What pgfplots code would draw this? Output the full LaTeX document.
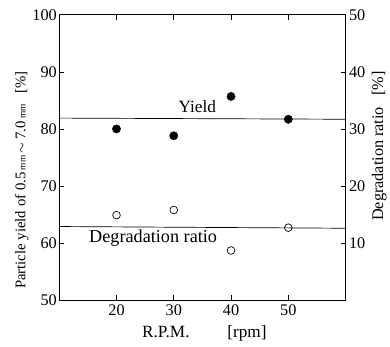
\documentclass[border=0pt]{standalone}
\usepackage{fontspec}
\setmainfont{Liberation Serif}
\usepackage{pgfplots}
\pgfplotsset{compat=1.18}
\begin{document}
\begin{tikzpicture}
\pgfplotsset{
  base/.style={
    at={(0bp,0bp)}, anchor=south west,
    scale only axis, width=290bp, height=289bp,
    xmin=10, xmax=60,
    tick align=inside,
    major tick length=5bp,
    axis line style={line width=0.9bp},
    every tick/.style={line width=0.7bp, black},
    tick label style={font=\fontsize{16.5}{18}\selectfont},
    label style={font=\fontsize{15}{17}\selectfont},
    /pgf/number format/assume math mode=true,
    clip=false,
  }
}
\begin{axis}[base,
  ymin=50, ymax=100,
  xtick={20,30,40,50}, xtick pos=both,
  ytick={50,60,70,80,90,100}, ytick pos=left,
  xticklabel style={yshift=-1bp},
  yticklabel style={xshift=1bp},
  xlabel={R.P.M.\hspace{2.2em}[rpm]},
  xlabel style={font=\fontsize{17.5}{19}\selectfont, at={(axis description cs:0.507,0)}, anchor=center, yshift=-34bp},
  ylabel={Particle yield of 0.5\,{\fontsize{9.5}{11}\selectfont mm}\,$\sim$\,7.0\,{\fontsize{9.5}{11}\selectfont mm}\hspace{0.7em}[\%]},
  ylabel style={at={(axis description cs:-0.131,0.42)}, anchor=center, rotate=0},
]
\addplot[black, line width=0.7bp] coordinates {(10,81.9) (60,81.7)};
\addplot[only marks, mark=*, mark size=4.2bp, black] coordinates {
(20,80.0) (30,78.8) (40,85.7) (50,81.7)};
\node[font=\fontsize{17.5}{18}\selectfont, anchor=center] at (axis cs:34.1,83.9) {Yield};
\end{axis}
\begin{axis}[base,
  ymin=0, ymax=50,
  axis x line=none,
  axis y line*=right,
  ytick={10,20,30,40,50},
  ylabel={Degradation ratio\hspace{0.7em}[\%]},
  ylabel style={font=\fontsize{16.5}{18}\selectfont, at={(axis description cs:1.118,0.54)}, anchor=center, rotate=0},
]
\addplot[black, line width=0.7bp] coordinates {(10,12.9) (60,12.6)};
\addplot[only marks, mark=o, mark size=3.9bp, black, mark options={line width=0.7bp}] coordinates {
(20,14.9) (30,15.8) (40,8.7) (50,12.7)};
\node[font=\fontsize{18.5}{20}\selectfont, anchor=center] at (axis cs:26.4,10.9) {Degradation ratio};
\end{axis}
\path[use as bounding box] (-60bp,-47bp) rectangle (330bp,304bp);
\end{tikzpicture}
\end{document}
